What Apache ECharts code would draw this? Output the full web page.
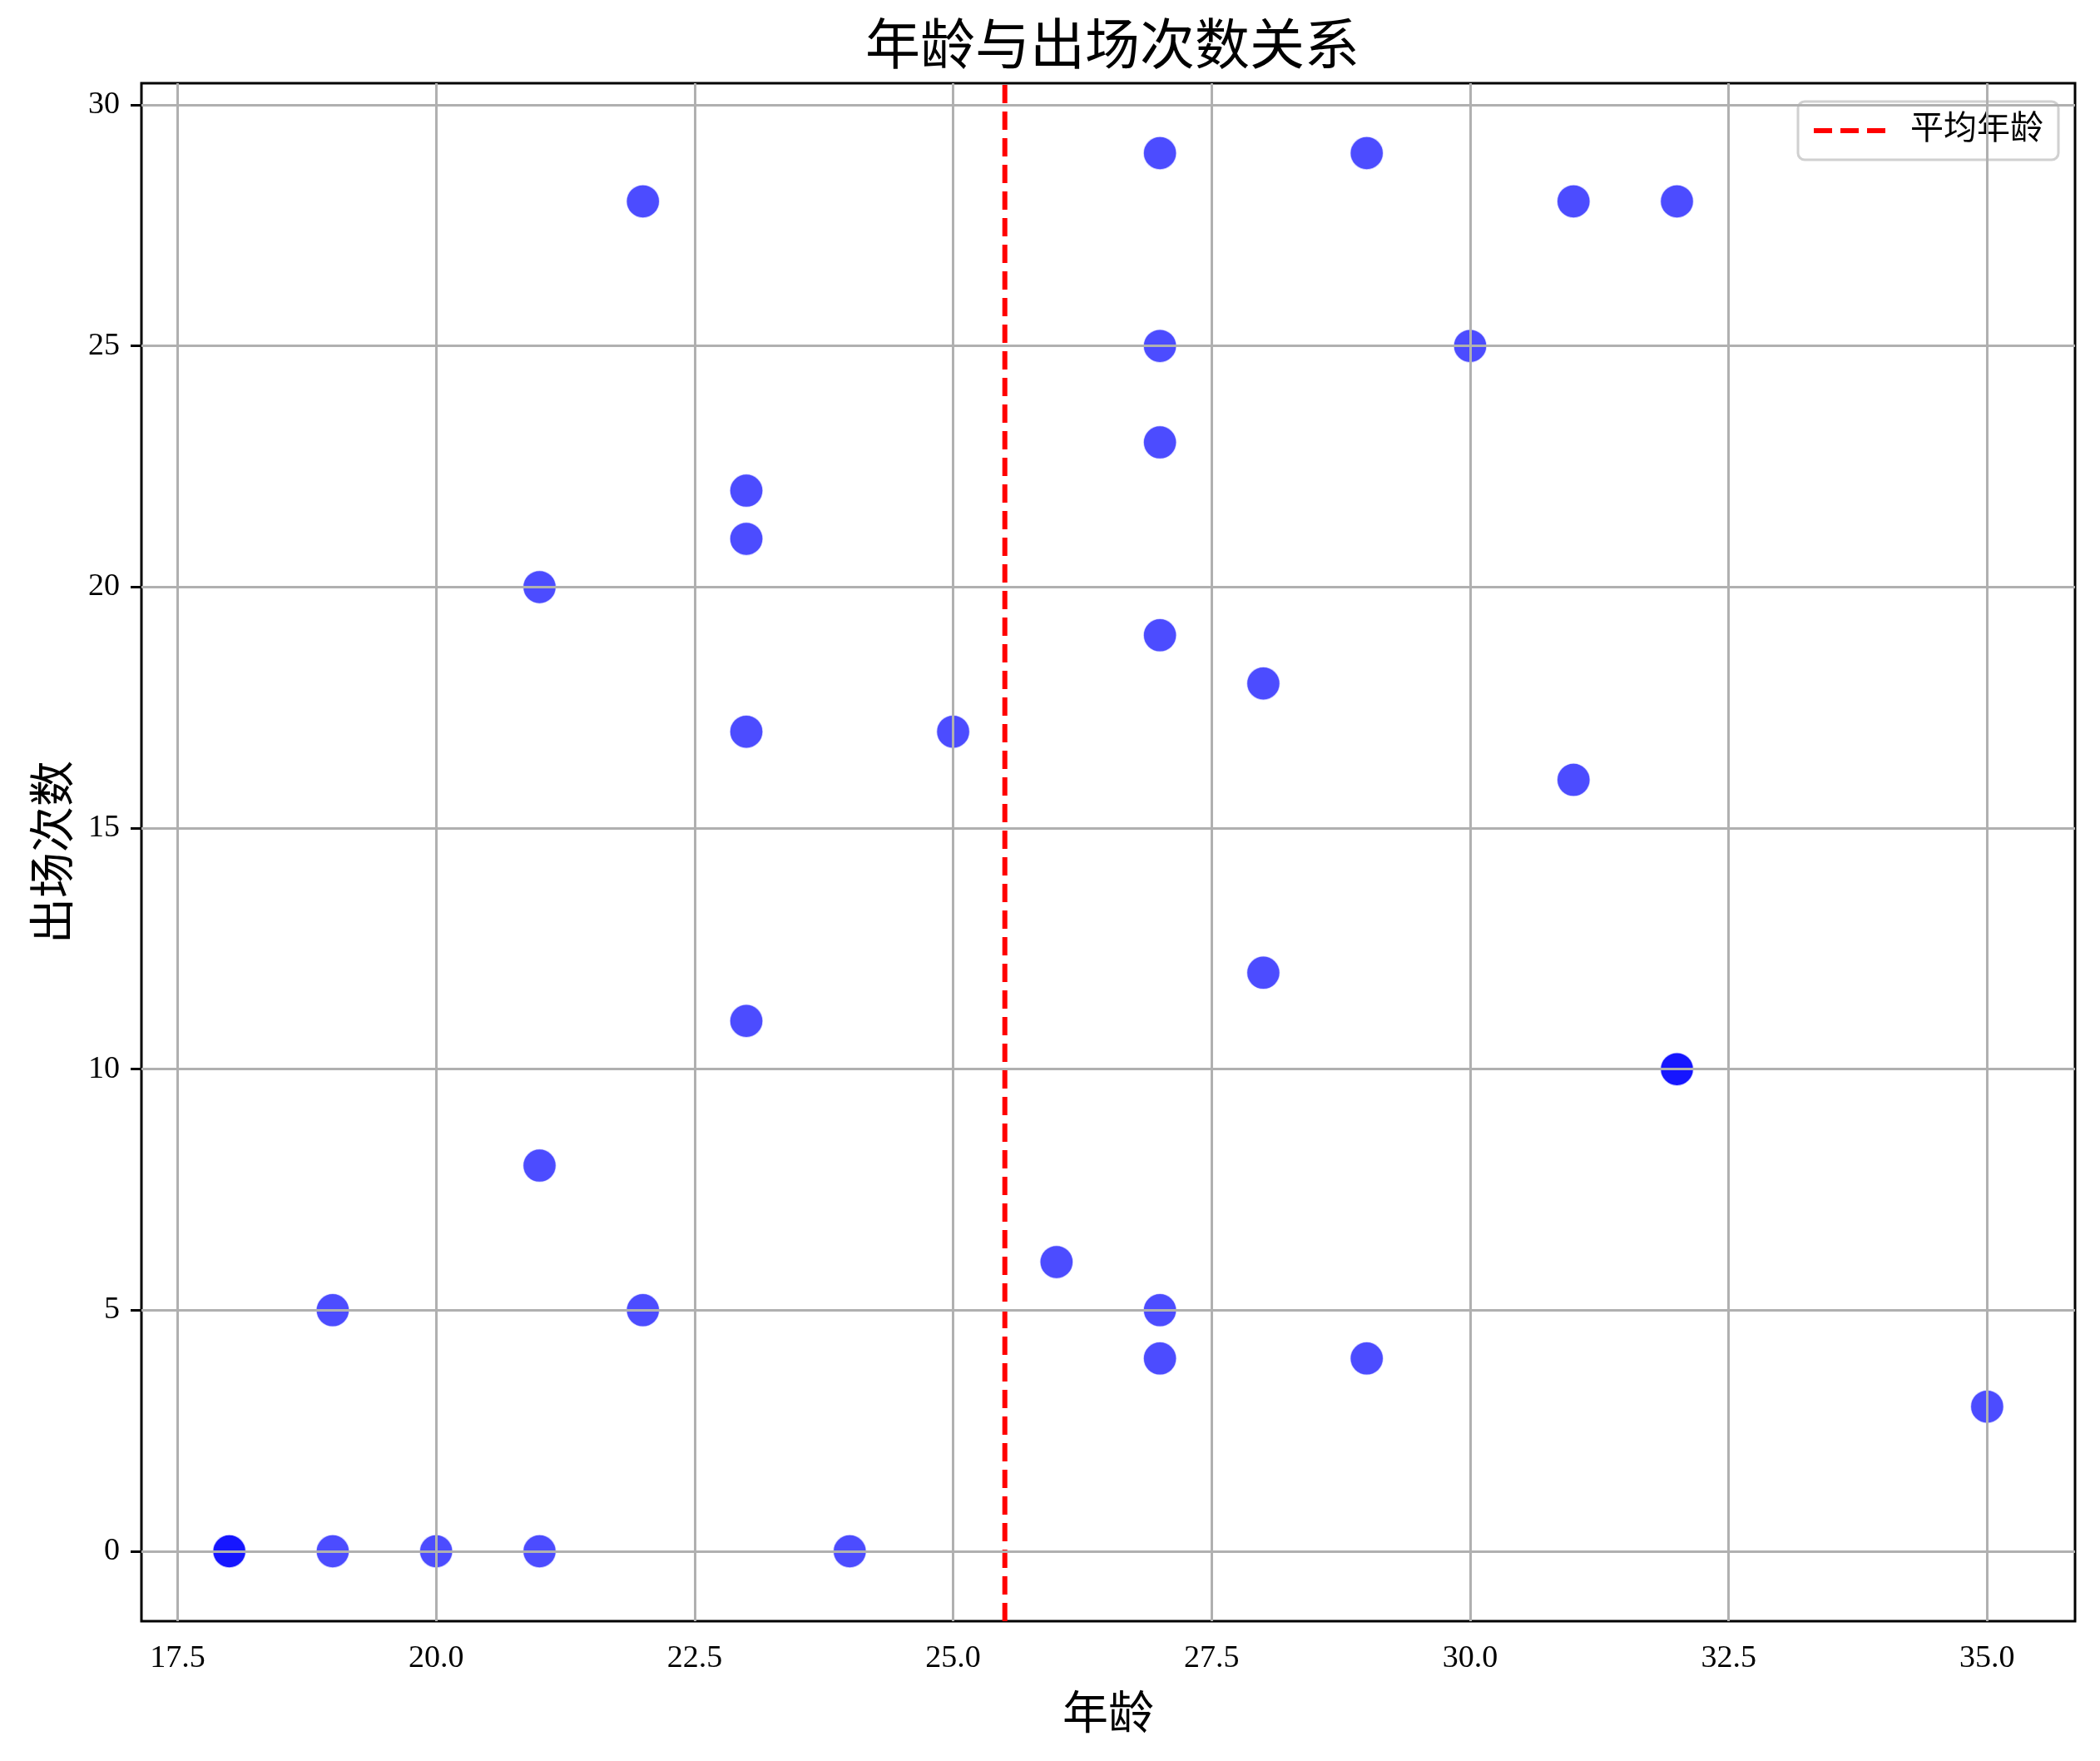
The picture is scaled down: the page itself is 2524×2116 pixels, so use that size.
<!DOCTYPE html>
<html>
<head>
<meta charset="utf-8">
<script src="https://cdn.jsdelivr.net/npm/echarts@6/dist/echarts.min.js"></script>
<style>html,body{margin:0;padding:0;background:#fff;}#c{width:2524px;height:2116px;}</style>
</head>
<body>
<div id="c"></div>
<script>
// Data
const ages = [18,18,19,20,21,24,19,22,27,27,29,35,26,21,32,32,23,28,31,23,25,28,27,21,23,23,27,27,30,22,31,32,27,29];
const apps = [0,0,0,0,0,0,5,5,5,4,4,3,6,8,10,10,11,12,16,17,17,18,19,20,21,22,23,25,25,28,28,28,29,29];
const xTicks = [17.5,20.0,22.5,25.0,27.5,30.0,32.5,35.0];
const yTicks = [0,5,10,15,20,25,30];
const titleText = '年龄与出场次数关系';
const xName = '年龄';
const yName = '出场次数';
const meanName = '平均年龄';

const meanAge = ages.reduce((a,b)=>a+b,0)/ages.length;
const xMin = 17.15, xMax = 35.85, yMin = -1.45, yMax = 30.45;
const FONT = '"Liberation Serif", "Noto Sans CJK SC", serif';

const points = ages.map((a,i)=>[a, apps[i]]);
const gridLines = xTicks.map(v=>({xAxis:v})).concat(yTicks.map(v=>({yAxis:v})));

const chart = echarts.init(document.getElementById('c'), null, {renderer:'canvas'});
chart.setOption({
  animation:false,
  backgroundColor:'#fff',
  title:{text:titleText,left:1332,textAlign:'center',top:22,textStyle:{fontFamily:FONT,fontSize:66,fontWeight:'normal',color:'#000'}},
  grid:{left:170,right:30,top:100,bottom:168,show:true,borderColor:'#000',borderWidth:3,backgroundColor:'transparent'},
  legend:{
    data:[{name:meanName,itemStyle:{opacity:0}}],right:50,top:122,orient:'vertical',
    itemWidth:87,itemHeight:8,padding:[15,18,15,16],
    lineStyle:{color:'#ff0000',width:6,type:[22,10]},
    backgroundColor:'rgba(255,255,255,0.8)',borderColor:'#d0d0d0',borderWidth:3,borderRadius:8,
    textStyle:{fontFamily:FONT,fontSize:40,color:'#000',padding:[0,0,0,24]}
  },
  xAxis:{
    type:'value',min:xMin,max:xMax,
    name:xName,nameLocation:'middle',nameGap:87,
    nameTextStyle:{fontFamily:FONT,fontSize:55,color:'#000'},
    axisLine:{show:false},
    axisTick:{show:true,customValues:xTicks,length:13,lineStyle:{color:'#000',width:3}},
    axisLabel:{customValues:xTicks,margin:26,fontFamily:FONT,fontSize:38,color:'#000',formatter:v=>Number(v).toFixed(1)},
    splitLine:{show:false}
  },
  yAxis:{
    type:'value',min:yMin,max:yMax,
    name:yName,nameLocation:'middle',nameGap:73,nameRotate:90,
    nameTextStyle:{fontFamily:FONT,fontSize:55,color:'#000'},
    axisLine:{show:false},
    axisTick:{show:true,customValues:yTicks,length:13,lineStyle:{color:'#000',width:3}},
    axisLabel:{customValues:yTicks,margin:26,fontFamily:FONT,fontSize:38,color:'#000',formatter:v=>String(Math.round(v))},
    splitLine:{show:false}
  },
  series:[
    {
      type:'scatter',name:'球员',data:points,symbolSize:40,z:2,
      itemStyle:{color:'#0000ff',opacity:0.7,borderColor:'#ffffff',borderWidth:1.5}
    },
    {
      type:'line',name:'grid',data:[],z:3,silent:true,
      markLine:{silent:true,symbol:['none','none'],label:{show:false},animation:false,
        lineStyle:{color:'#b0b0b0',width:3,type:'solid'},data:gridLines}
    },
    {
      type:'line',name:meanName,data:[[meanAge,yMin],[meanAge,yMax]],z:4,
      symbol:'none',showSymbol:false,
      lineStyle:{color:'#ff0000',width:6,type:[22,10]},itemStyle:{color:'#ff0000'}
    }
  ]
});
</script>
</body>
</html>
